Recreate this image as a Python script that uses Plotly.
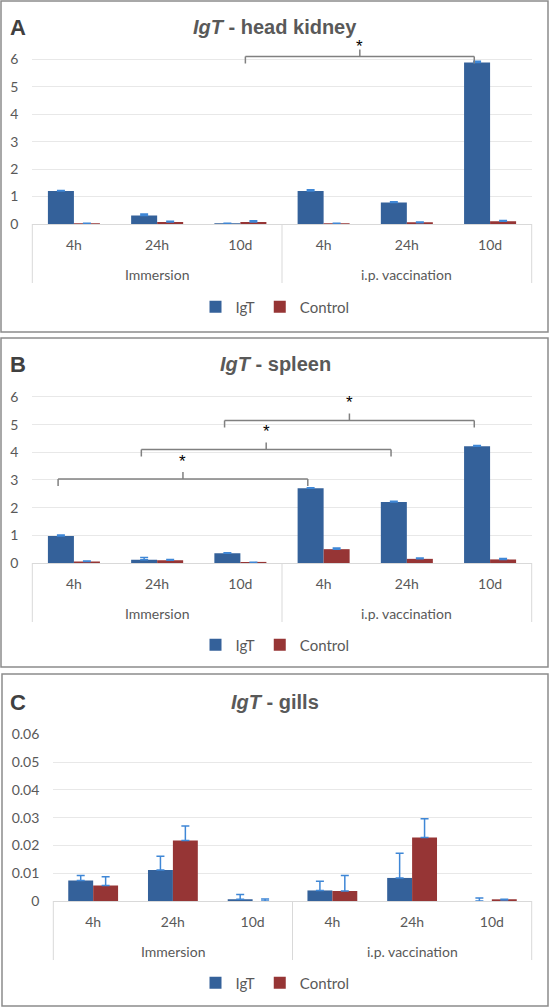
import plotly.graph_objects as go

W, H = 550, 1008

# categories
group_names = ["Immersion", "i.p. vaccination"]
times = ["4h", "24h", "10d", "4h", "24h", "10d"]

# panel A - head kidney
hk_igt = [1.2, 0.31, 0.01, 1.2, 0.78, 5.88]
hk_igt_err = [0.02, 0.05, 0.02, 0.05, 0.03, 0.05]
hk_ctrl = [0.01, 0.07, 0.07, 0.01, 0.05, 0.1]
hk_ctrl_err = [0.02, 0.03, 0.05, 0.02, 0.02, 0.03]

# panel B - spleen
sp_igt = [0.98, 0.12, 0.35, 2.7, 2.2, 4.22]
sp_igt_err = [0.03, 0.08, 0.02, 0.02, 0.03, 0.03]
sp_ctrl = [0.05, 0.1, 0.01, 0.5, 0.15, 0.13]
sp_ctrl_err = [0.02, 0.03, 0.02, 0.04, 0.03, 0.03]

# panel C - gills
gi_igt = [0.0074, 0.0112, 0.0006, 0.0038, 0.0083, 0.0]
gi_igt_err = [0.0018, 0.0049, 0.0017, 0.0033, 0.0089, 0.0011]
gi_ctrl = [0.0056, 0.0218, 0.0, 0.0036, 0.0229, 0.0004]
gi_ctrl_err = [0.0031, 0.0052, 0.0007, 0.0056, 0.0067, 0.0002]

# significance brackets: (left position, right position, bracket height, star height)
hk_brackets = [(2.06, 4.81, 6.1, 6.45)]
sp_brackets = [(-0.19, 2.81, 3.04, 3.66), (0.81, 3.81, 4.1, 4.74), (1.81, 4.81, 5.15, 5.8)]

BLUE = "#34619a"
RED = "#963535"
ERR = "#3f87d6"
GRAY = "#595959"
LIGHT = "#d9d9d9"
FONT = "Lato"
TICKFONT = dict(family=FONT, size=14, color=GRAY)

xpos = list(range(len(times)))
n_per_group = len(times) // len(group_names)


def px_x(p):
    return p / W


def px_y(p):
    return 1 - p / H


panels = [
    dict(letter="A", name="head kidney", igt=hk_igt, ie=hk_igt_err, ctrl=hk_ctrl, ce=hk_ctrl_err,
         x0=32.3, x1=531.7, ybot=224, scale=27.45, ymax=6.4, dtick=1, br=hk_brackets,
         ty=27, ly=307, box=(1, 1, 548, 332)),
    dict(letter="B", name="spleen", igt=sp_igt, ie=sp_igt_err, ctrl=sp_ctrl, ce=sp_ctrl_err,
         x0=32.3, x1=531.7, ybot=563, scale=27.67, ymax=6.4, dtick=1, br=sp_brackets,
         ty=364, ly=645, box=(1, 338, 548, 667)),
    dict(letter="C", name="gills", igt=gi_igt, ie=gi_igt_err, ctrl=gi_ctrl, ce=gi_ctrl_err,
         x0=53.3, x1=531.7, ybot=901, scale=2778, ymax=0.06, dtick=0.01, br=[],
         ty=702, ly=983, box=(2, 674, 548, 1006)),
]

fig = go.Figure()
shapes = []
annotations = []

for i, p in enumerate(panels):
    n = "" if i == 0 else str(i + 1)
    xa, ya = "x" + n, "y" + n
    leg = "legend" + n
    for name, vals, err, color in [("IgT", p["igt"], p["ie"], BLUE),
                                   ("Control", p["ctrl"], p["ce"], RED)]:
        fig.add_trace(go.Bar(
            x=xpos, y=vals, name=name, marker_color=color,
            marker_line_width=0, xaxis=xa, yaxis=ya, legend=leg,
            error_y=dict(type="data", array=err, arrayminus=[0] * len(err), symmetric=False,
                         color=ERR, thickness=1.5, width=4),
        ))

    ytop = p["ybot"] - p["ymax"] * p["scale"]
    plot_h = p["ybot"] - ytop
    fig.layout["xaxis" + n] = dict(
        domain=[px_x(p["x0"]), px_x(p["x1"])], anchor=ya,
        range=[-0.5, len(times) - 0.5], tickvals=xpos, ticktext=times,
        showline=True, linecolor=LIGHT, linewidth=1, ticklabelstandoff=8,
        tickfont=TICKFONT, showgrid=False, ticks="", zeroline=False,
    )
    fig.layout["yaxis" + n] = dict(
        domain=[px_y(p["ybot"]), px_y(ytop)], anchor=xa,
        range=[0, p["ymax"]], dtick=p["dtick"], tick0=0,
        showgrid=True, gridcolor="#e8e8e8", gridwidth=1, zeroline=False,
        showline=False, ticks="", tickfont=TICKFONT, ticklabelstandoff=13,
    )
    fig.layout[leg] = dict(
        orientation="h", x=0.5, xanchor="center", y=px_y(p["ly"]), yanchor="middle",
        font=dict(family=FONT, size=15, color=GRAY), itemwidth=30,
        bgcolor="rgba(0,0,0,0)", tracegroupgap=0,
    )

    # second level category labels and dividers
    for g, gname in enumerate(group_names):
        annotations.append(dict(
            text=gname, x=g * n_per_group + (n_per_group - 1) / 2, y=-50 / plot_h,
            xref=xa, yref=ya + " domain", showarrow=False, xanchor="center", yanchor="middle",
            font=TICKFONT,
        ))
    for b in range(len(group_names) + 1):
        xd = b * n_per_group / len(times)
        shapes.append(dict(type="line", xref=xa + " domain", yref=ya + " domain",
                           x0=xd, x1=xd, y0=0, y1=-59 / plot_h,
                           line=dict(color=LIGHT, width=1)))

    # titles and panel letter
    annotations.append(dict(
        text="<b><i>IgT</i> - " + p["name"] + "</b>", x=0.5, y=px_y(p["ty"]),
        xref="paper", yref="paper", showarrow=False, xanchor="center", yanchor="middle",
        font=dict(family="Liberation Sans", size=20, color=GRAY),
    ))
    annotations.append(dict(
        text="<b>" + p["letter"] + "</b>", x=px_x(18), y=px_y(p["ty"]),
        xref="paper", yref="paper", showarrow=False, xanchor="center", yanchor="middle",
        font=dict(family="Liberation Sans", size=22, color="#404040"),
    ))

    # panel frame
    bx0, by0, bx1, by1 = p["box"]
    shapes.append(dict(type="rect", xref="paper", yref="paper",
                       x0=px_x(bx0), x1=px_x(bx1), y0=px_y(by0), y1=px_y(by1),
                       line=dict(color="#8c8c8c", width=1.5)))

    # significance brackets
    drop = 7 / p["scale"]
    for xl, xr, yb, ys in p["br"]:
        xc = (xl + xr) / 2
        line = dict(color="#808080", width=1.5)
        for x0, x1, y0, y1 in [(xl, xr, yb, yb), (xl, xl, yb, yb - drop),
                               (xr, xr, yb, yb - drop), (xc, xc, yb, yb + drop)]:
            shapes.append(dict(type="line", xref=xa, yref=ya, x0=x0, x1=x1, y0=y0, y1=y1, line=line))
        # star placed in domain units so it may sit above the axis range
        annotations.append(dict(
            text="*", x=xc, y=ys / p["ymax"], xref=xa, yref=ya + " domain",
            showarrow=False, xanchor="center", yanchor="middle",
            font=dict(family="Liberation Sans", size=17, color="#000000"),
        ))

fig.update_layout(
    width=W, height=H, margin=dict(l=0, r=0, t=0, b=0),
    paper_bgcolor="white", plot_bgcolor="white",
    barmode="group", bargap=0.375, bargroupgap=0,
    shapes=shapes, annotations=annotations, template="none",
)

# the page body has a default margin; drop it so the figure sits at the window origin
fig.write_html("out.html", config={"displayModeBar": False},
               post_script="document.body.style.margin='0';")
